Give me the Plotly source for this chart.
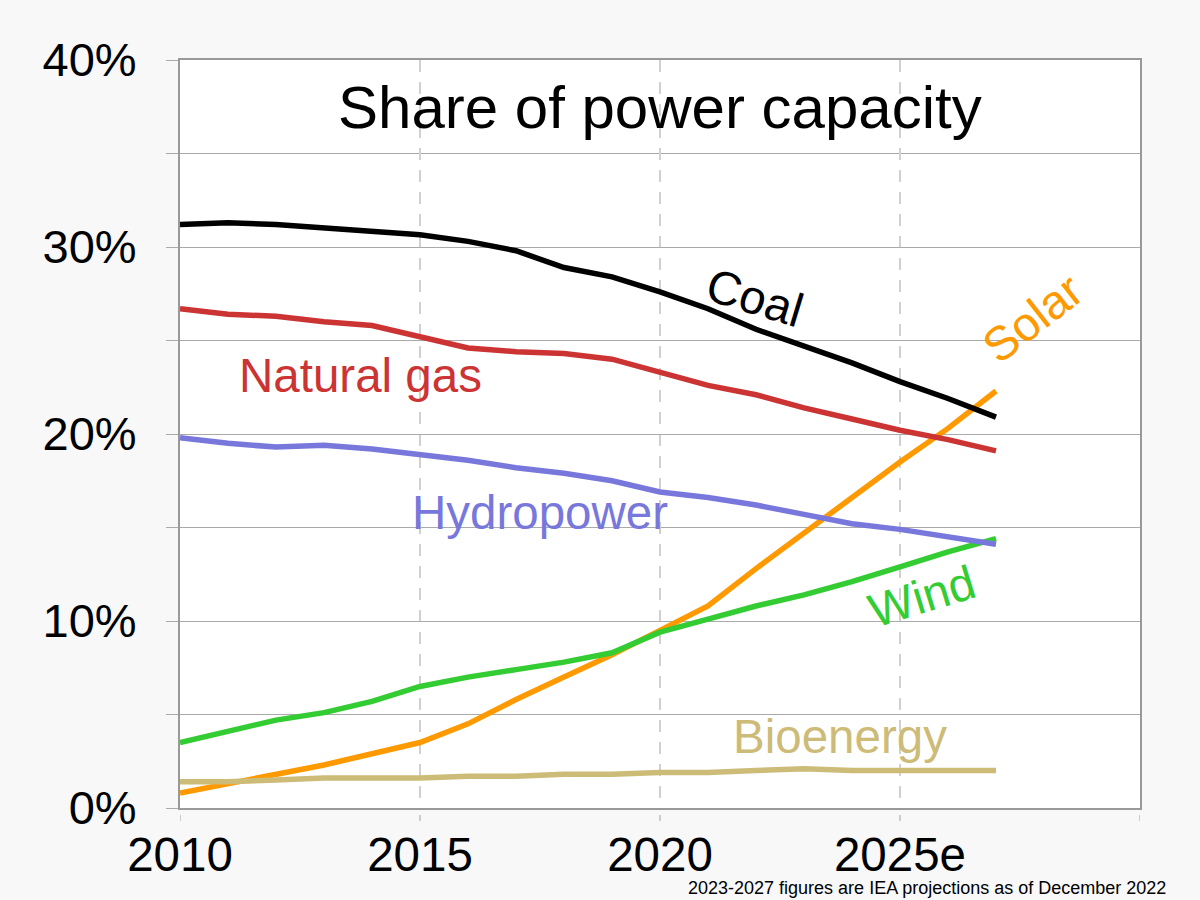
import plotly.graph_objects as go

years = list(range(2010, 2028))

coal = [31.2, 31.3, 31.2, 31.0, 30.85, 30.65, 30.3, 29.8, 28.9, 28.4, 27.6, 26.7, 25.6, 24.7, 23.8, 22.8, 21.9, 20.9]
natural_gas = [26.7, 26.4, 26.3, 26.0, 25.8, 25.2, 24.6, 24.4, 24.3, 24.0, 23.3, 22.6, 22.1, 21.4, 20.8, 20.2, 19.7, 19.1]
hydropower = [19.8, 19.5, 19.3, 19.4, 19.2, 18.9, 18.6, 18.2, 17.9, 17.5, 16.9, 16.6, 16.2, 15.7, 15.2, 14.9, 14.5, 14.1]
wind = [3.5, 4.1, 4.7, 5.1, 5.7, 6.5, 7.0, 7.4, 7.8, 8.3, 9.4, 10.1, 10.8, 11.4, 12.1, 12.9, 13.7, 14.4]
solar = [0.8, 1.3, 1.8, 2.3, 2.9, 3.5, 4.5, 5.8, 7.0, 8.2, 9.5, 10.8, 12.8, 14.7, 16.6, 18.5, 20.3, 22.3]
bioenergy = [1.4, 1.4, 1.5, 1.6, 1.6, 1.6, 1.7, 1.7, 1.8, 1.8, 1.9, 1.9, 2.0, 2.1, 2.0, 2.0, 2.0, 2.0]

x_tick_vals = [2010, 2015, 2020, 2025, 2030]
x_tick_text = ["2010", "2015", "2020", "2025e", ""]
y_tick_vals = [0, 10, 20, 30, 40]
y_tick_text = ["0%", "10%", "20%", "30%", "40%"]

series = [
    ("Solar", solar, "#ff9900"),
    ("Bioenergy", bioenergy, "#cdbb78"),
    ("Wind", wind, "#33cc33"),
    ("Hydropower", hydropower, "#7878dc"),
    ("Natural gas", natural_gas, "#cc3333"),
    ("Coal", coal, "#000000"),
]

FONT = "Liberation Sans, Arial, sans-serif"
NARROW = "Liberation Sans Narrow, Arial Narrow, Liberation Sans, sans-serif"

fig = go.Figure()
for name, vals, color in series:
    fig.add_trace(go.Scatter(
        x=years, y=vals, mode="lines", name=name,
        line=dict(color=color, width=5.5),
        showlegend=False, hoverinfo="skip",
    ))

labels = [
    ("Natural gas", 2013.75, 23.15, "#cc3333", 0),
    ("Hydropower", 2017.5, 15.8, "#7878dc", 0),
    ("Bioenergy", 2023.75, 3.85, "#cdbb78", 0),
    ("Coal", 2021.98, 27.3, "#000000", 17),
    ("Solar", 2027.75, 26.2, "#ff9900", -38),
    ("Wind", 2025.45, 11.3, "#33cc33", -17),
]
for text, lx, ly, color, ang in labels:
    fig.add_annotation(x=lx, y=ly, xref="x", yref="y", text=text, showarrow=False,
                       textangle=ang, font=dict(family=FONT, size=47.5, color=color))

fig.add_annotation(x=0.5, y=(808 - 107) / 748.0, xref="paper", yref="paper",
                   xanchor="center", yanchor="middle",
                   text="Share of power capacity",
                   showarrow=False, font=dict(family=NARROW, size=60, color="#000"))

fig.add_annotation(x=1, y=0, xref="paper", yref="paper", xanchor="right", yanchor="middle",
                   text="2023-2027 figures are IEA projections as of December 2022",
                   showarrow=False, yshift=-80, xshift=28,
                   font=dict(family=NARROW, size=18, color="#000"))

# small dashed tick marks below the x axis
for tv in x_tick_vals:
    fig.add_shape(type="line", xref="x", yref="paper", x0=tv, x1=tv,
                  y0=-7 / 748.0, y1=-13 / 748.0,
                  line=dict(color="#cccccc", width=2))

fig.update_layout(
    width=1200, height=900,
    margin=dict(l=180, r=60, t=60, b=92),
    paper_bgcolor="#f8f8f8", plot_bgcolor="#ffffff",
    font=dict(family=FONT, size=47, color="#000"),
    xaxis=dict(
        range=[2010, 2030], tickvals=x_tick_vals, ticktext=x_tick_text,
        showgrid=True, gridcolor="#d0d0d0", griddash="12px,10px", gridwidth=2,
        showline=True, linecolor="#999999", linewidth=2, mirror=True,
        ticks="", zeroline=False, ticklabelstandoff=4,
        tickfont=dict(family=FONT, size=47.5),
    ),
    yaxis=dict(
        range=[0, 40], tickvals=y_tick_vals, ticktext=y_tick_text,
        showgrid=True, gridcolor="#aaaaaa", gridwidth=1,
        showline=True, linecolor="#999999", linewidth=2, mirror=True,
        ticks="outside", ticklen=12, tickcolor="#aaaaaa", tickwidth=1,
        zeroline=False, ticklabelstandoff=20,
        minor=dict(dtick=5, tick0=0, showgrid=True, gridcolor="#aaaaaa", gridwidth=1,
                   ticks="outside", ticklen=12, tickcolor="#aaaaaa"),
        tickfont=dict(family=FONT, size=47),
    ),
)

fig.write_html("out.html")
